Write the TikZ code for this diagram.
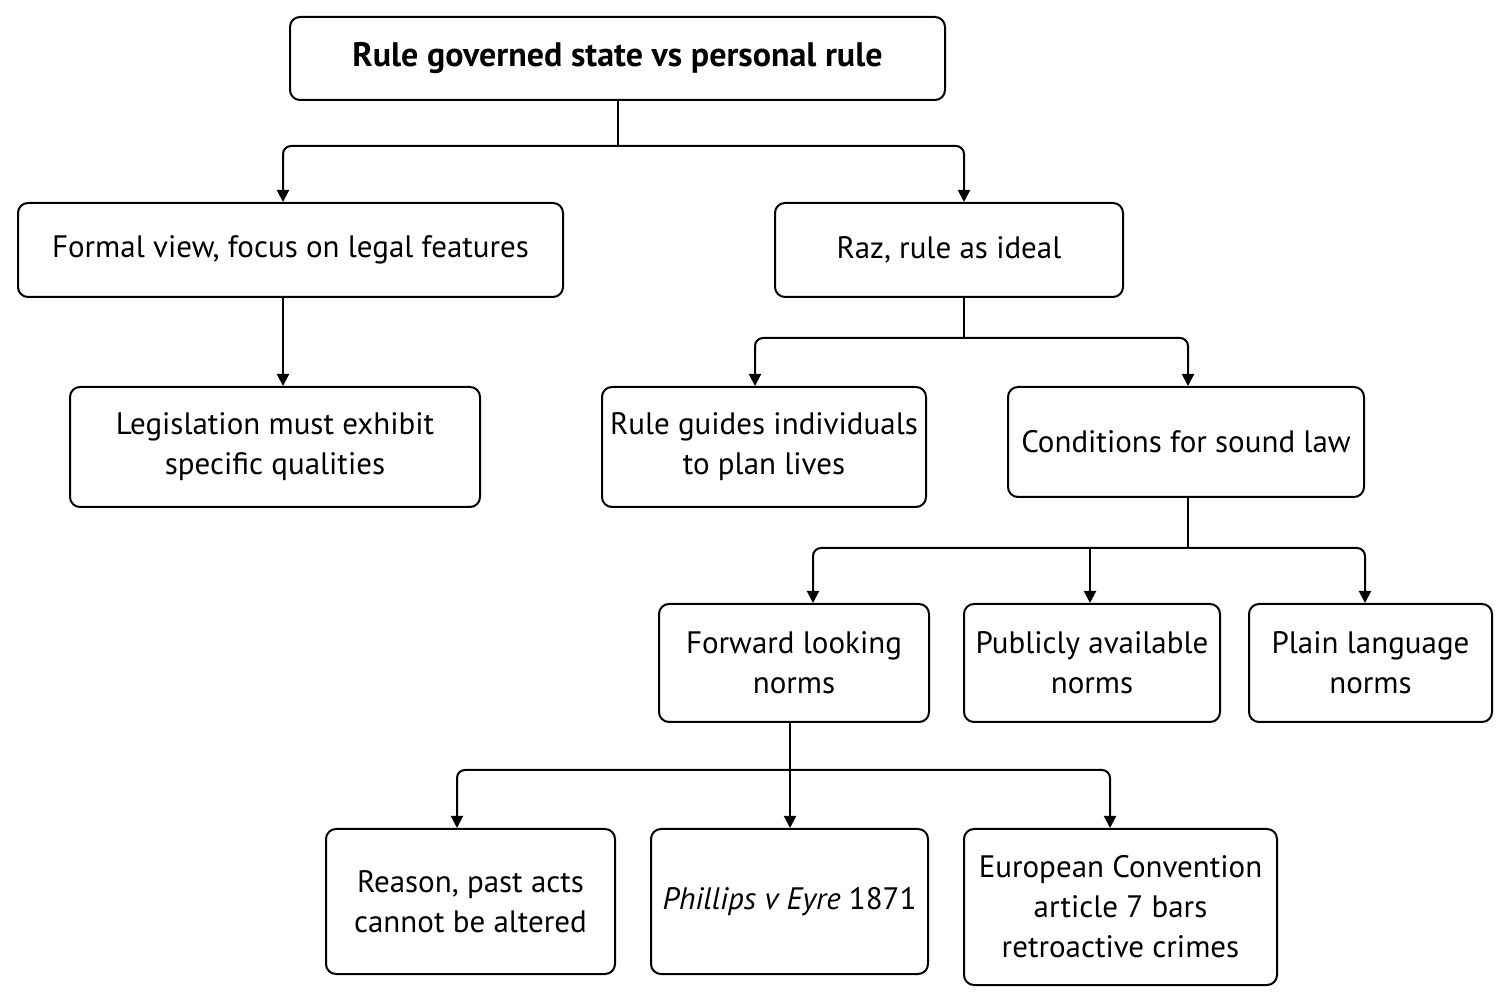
\documentclass[tikz,border=0pt]{standalone}
\usepackage{fontspec}
\setmainfont{PT Sans}
\usetikzlibrary{arrows.meta}
\begin{document}
\begin{tikzpicture}[x=0.5pt,y=-0.5pt,
  box/.style={draw,line width=1pt,rounded corners=5pt,align=center,font=\fontsize{15.5}{20}\selectfont},
  conn/.style={line width=1pt,-{Triangle[length=6pt,width=6pt]}},
  ln/.style={line width=1pt}]
\useasboundingbox (0,0) rectangle (1510,1004);
\newcommand{\bx}[6]{\node[box,minimum width=#4*0.5pt-#2*0.5pt,minimum height=#5*0.5pt-#3*0.5pt] (#1) at ({(#2+#4)/2},{(#3+#5)/2}) {#6};}
\bx{top}{290}{17}{945}{100}{\fontsize{17}{20}\selectfont\textbf{Rule governed state vs personal rule}}
\bx{formal}{18}{203}{563}{297}{Formal view, focus on legal features}
\bx{raz}{775}{203}{1123}{297}{Raz, rule as ideal}
\bx{legis}{70}{387}{480}{507}{Legislation must exhibit\\specific qualities}
\bx{guides}{602}{387}{926}{507}{Rule guides individuals\\to plan lives}
\bx{cond}{1008}{387}{1364}{497}{Conditions for sound law}
\bx{fwd}{659}{604}{929}{722}{Forward looking\\norms}
\bx{pub}{964}{604}{1220}{722}{Publicly available\\norms}
\bx{plain}{1249}{604}{1492}{722}{Plain language\\norms}
\bx{reason}{326}{829}{615}{974}{Reason, past acts\\cannot be altered}
\bx{phil}{651}{829}{928}{974}{\textit{Phillips v Eyre} 1871}
\bx{euro}{964}{829}{1277}{985}{European Convention\\article 7 bars\\retroactive crimes}
\coordinate (j1) at (618,146);
\coordinate (j2) at (964,338);
\coordinate (j3) at (1188,548);
\coordinate (j4) at (790,770);
\coordinate (a1) at (283,0);
\coordinate (a2) at (964,0);
\coordinate (a3) at (755,0);
\coordinate (a4) at (813,0);
\coordinate (a5) at (1090,0);
\coordinate (a6) at (1365,0);
\coordinate (a7) at (457,0);
\coordinate (a8) at (1110,0);
\draw[ln] (top.south -| j1) -- (j1);
\draw[conn,rounded corners=4pt] (j1) -| (formal.north -| a1);
\draw[conn,rounded corners=4pt] (j1) -| (raz.north -| a2);
\draw[conn] (formal.south -| a1) -- (legis.north -| a1);
\draw[ln] (raz.south -| j2) -- (j2);
\draw[conn,rounded corners=4pt] (j2) -| (guides.north -| a3);
\draw[conn,rounded corners=4pt] (j2) -| (cond.north -| j3);
\draw[ln] (cond.south -| j3) -- (j3);
\draw[conn,rounded corners=4pt] (j3) -| (fwd.north -| a4);
\draw[conn] (j3 -| a5) -- (pub.north -| a5);
\draw[conn,rounded corners=4pt] (j3) -| (plain.north -| a6);
\draw[ln] (fwd.south -| j4) -- (j4);
\draw[conn,rounded corners=4pt] (j4) -| (reason.north -| a7);
\draw[conn] (j4) -- (phil.north -| j4);
\draw[conn,rounded corners=4pt] (j4) -| (euro.north -| a8);
\end{tikzpicture}
\end{document}
